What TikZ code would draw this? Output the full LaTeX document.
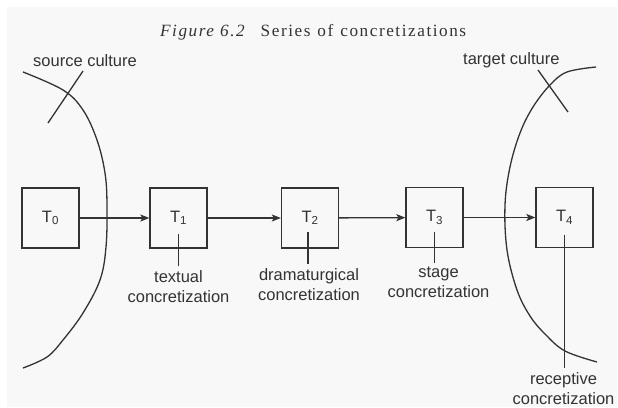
\documentclass[tikz,border=0pt]{standalone}
\usepackage{fontspec}
\setmainfont{Liberation Serif}
\setsansfont{Liberation Sans}
\newfontfamily\titlefont[LetterSpace=9]{Liberation Serif}
\usetikzlibrary{arrows.meta,calc}
\definecolor{ink}{HTML}{333333}
\definecolor{paper}{HTML}{F8F8F8}
\tikzset{
  stagebox/.style={draw=ink, line width=1.3pt, minimum width=57pt, minimum height=60pt,
    inner sep=0pt, text=ink, font=\sffamily\fontsize{16.5}{18}\selectfont},
  link/.style={draw=ink, line width=1.3pt, -{Stealth[length=9pt,width=7pt,inset=2pt]}},
  tickline/.style={draw=ink, line width=1.3pt},
  culture/.style={draw=ink, line width=1.3pt},
  caption/.style={text=ink, align=center, inner xsep=0pt, inner ysep=4pt,
    font=\sffamily\fontsize{16.5}{20}\selectfont},
  culturelabel/.style={text=ink, inner sep=0pt, anchor=base west,
    font=\sffamily\fontsize{16.5}{20}\selectfont}
}
\begin{document}
\begin{tikzpicture}[x=1pt,y=-1pt]
\useasboundingbox (0,0) rectangle (618,407);
\fill[paper] (7,7) rectangle (617,407);

% heading
\node[anchor=base west, inner sep=0pt, text=ink] (title) at (160,36)
  {\titlefont\fontsize{17.2}{18}\selectfont{\itshape Figure\hspace{6pt}6.2}\hspace{16pt}Series\hspace{7pt}of\hspace{7pt}concretizations};

% the two cultures
\draw[culture] plot[smooth, tension=0.6] coordinates
  {(23,72) (63,90) (83,110) (97,140) (105,173) (107,205) (106,247) (100,280) (83,313) (63,340) (47,357) (23,368)};
\draw[culture] plot[smooth, tension=0.6] coordinates
  {(596,67) (567,72) (550,85) (533,107) (520,133) (510,167) (505,205) (507,250) (517,290) (530,316) (545,334) (565,351) (597,362)};
\coordinate (sa) at (48,123);
\coordinate (sb) at (83,71);
\draw[culture] (sa) -- (sb);
\coordinate (ta) at (538,70);
\coordinate (tb) at (568,112);
\draw[culture] (ta) -- (tb);
\node[culturelabel] (src) at (33,66) {source culture};
\node[culturelabel] (tgt) at (463,64) {target culture};

% the chain of texts
\node[stagebox] (T0) at (50.5,218) {T\textsubscript{0}};
\node[stagebox] (T1) at (178.5,218) {T\textsubscript{1}};
\node[stagebox] (T2) at (310,218) {T\textsubscript{2}};
\node[stagebox] (T3) at (434.5,217.5) {T\textsubscript{3}};
\node[stagebox] (T4) at (564.5,217.5) {T\textsubscript{4}};

\draw[link] (T0) -- (T1);
\draw[link] (T1) -- (T2);
\draw[link] (T2) -- (T3);
\draw[link] (T3) -- (T4);

% kinds of concretization
\node[caption, anchor=north] (c1) at (178.5,266) {textual\\concretization};
\node[caption, anchor=north] (c2) at (309,264) {dramaturgical\\concretization};
\node[caption, anchor=north] (c3) at (438.5,263) {stage\\concretization};
\node[caption, anchor=north] (c4) at (563.5,368) {receptive\\concretization};

\draw[tickline] ($(T1.center)+(0,16)$) -- (c1.north -| T1.center);
\draw[tickline] ($(T2.center)+(-2,14)$) -- ($(c2.north -| T2.center)+(-2,0)$);
\draw[tickline] ($(T3.center)+(0,14)$) -- (c3.north -| T3.center);
\draw[tickline] ($(T4.center)+(0,17)$) -- (c4.north -| T4.center);
\end{tikzpicture}
\end{document}
